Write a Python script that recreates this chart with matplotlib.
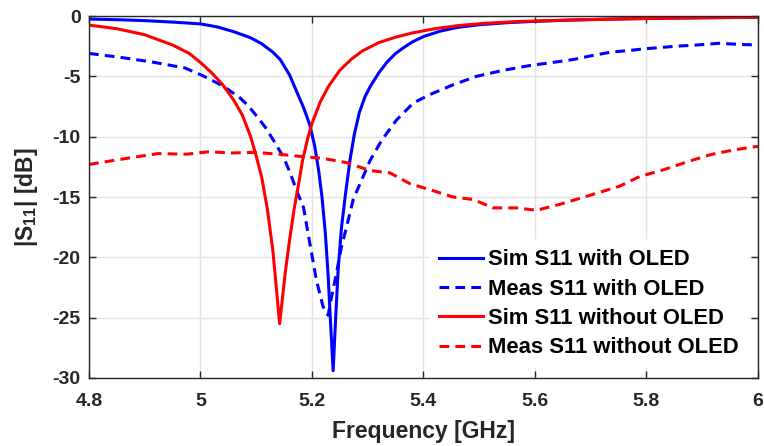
import matplotlib
matplotlib.use("Agg")
import matplotlib.pyplot as plt

plt.rcParams['font.family'] = ['Liberation Sans', 'DejaVu Sans']
plt.rcParams['mathtext.fontset'] = 'custom'
plt.rcParams['mathtext.rm'] = 'Liberation Sans:bold'
plt.rcParams['mathtext.bf'] = 'Liberation Sans:bold'
plt.rcParams['mathtext.it'] = 'Liberation Sans:bold'
plt.rcParams['axes.unicode_minus'] = False

# Simulated S11 with OLED
sim_oled_f = [4.80, 4.85, 4.90, 4.95, 5.00, 5.03, 5.06, 5.09, 5.11, 5.13, 5.143,
              5.16, 5.172, 5.185, 5.196, 5.205, 5.212, 5.218, 5.224, 5.229, 5.234,
              5.238, 5.242, 5.247, 5.253, 5.260, 5.268, 5.276, 5.285, 5.295, 5.305,
              5.32, 5.335, 5.35, 5.365, 5.38, 5.40, 5.43, 5.46, 5.50, 5.55, 5.60,
              5.66, 5.73, 5.80, 5.90, 6.00]
sim_oled_db = [-0.25, -0.3, -0.38, -0.5, -0.65, -0.9, -1.3, -1.8, -2.3, -3.0, -3.6,
               -4.9, -6.2, -7.6, -9.0, -10.8, -12.8, -15.0, -18.0, -21.5, -26.0,
               -29.4, -25.5, -21.0, -17.5, -14.8, -12.0, -9.8, -8.0, -6.7, -5.8,
               -4.7, -3.8, -3.1, -2.6, -2.15, -1.7, -1.25, -0.95, -0.72, -0.55, -0.44,
               -0.34, -0.26, -0.2, -0.14, -0.1]

# Measured S11 with OLED
meas_oled_f = [4.80, 4.853, 4.912, 4.972, 5.002, 5.032, 5.050, 5.070, 5.085, 5.101, 5.116,
               5.131, 5.149, 5.160, 5.172, 5.185, 5.196, 5.208, 5.220, 5.229, 5.235,
               5.244, 5.253, 5.262, 5.274, 5.289, 5.304, 5.325, 5.352, 5.382, 5.412,
               5.453, 5.495, 5.543, 5.591, 5.639, 5.669, 5.700, 5.735, 5.770, 5.800,
               5.854, 5.890, 5.930, 5.968, 6.00]
meas_oled_db = [-3.1, -3.4, -3.8, -4.3, -4.9, -5.6, -6.1, -6.75, -7.4, -8.3, -9.2,
                -10.3, -11.7, -12.9, -14.4, -15.9, -18.8, -21.9, -24.1, -24.8, -23.3,
                -21.3, -19.1, -17.5, -15.2, -13.6, -12.0, -10.3, -8.6, -7.2, -6.5,
                -5.7, -5.0, -4.5, -4.1, -3.8, -3.6, -3.3, -3.0, -2.85, -2.7,
                -2.5, -2.4, -2.26, -2.35, -2.4]

# Simulated S11 without OLED
sim_no_f = [4.80, 4.85, 4.90, 4.95, 4.98, 5.00, 5.02, 5.04, 5.06, 5.075, 5.09,
            5.10, 5.11, 5.12, 5.13, 5.142, 5.152, 5.16, 5.168, 5.175, 5.183,
            5.192, 5.20, 5.215, 5.23, 5.25, 5.27, 5.29, 5.32, 5.35, 5.38,
            5.42, 5.46, 5.51, 5.57, 5.66, 5.75, 5.85, 6.00]
sim_no_db = [-0.75, -1.05, -1.55, -2.4, -3.1, -3.85, -4.7, -5.7, -7.0, -8.2, -10.0,
             -11.6, -13.4, -16.0, -19.5, -25.5, -21.3, -18.5, -16.0, -14.2, -12.0,
             -10.2, -8.9, -7.1, -5.8, -4.5, -3.6, -2.9, -2.2, -1.75, -1.4,
             -1.05, -0.8, -0.6, -0.45, -0.33, -0.24, -0.17, -0.1]

# Measured S11 without OLED
meas_no_f = [4.80, 4.853, 4.888, 4.924, 4.975, 5.014, 5.056, 5.098, 5.140, 5.172, 5.220,
             5.262, 5.304, 5.340, 5.376, 5.412, 5.453, 5.489, 5.525, 5.567, 5.603,
             5.645, 5.681, 5.717, 5.752, 5.788, 5.830, 5.872, 5.914, 5.956, 6.00]
meas_no_db = [-12.3, -11.9, -11.65, -11.4, -11.45, -11.25, -11.35, -11.3, -11.45, -11.6, -11.8,
              -12.15, -12.8, -13.0, -13.9, -14.4, -15.0, -15.2, -15.9, -15.9, -16.1,
              -15.6, -15.1, -14.6, -14.1, -13.3, -12.75, -12.1, -11.5, -11.1, -10.8]

labels = ['Sim S11 with OLED', 'Meas S11 with OLED',
          'Sim S11 without OLED', 'Meas S11 without OLED']
xticks = [4.8, 5.0, 5.2, 5.4, 5.6, 5.8, 6.0]
xticklabels = ['4.8', '5', '5.2', '5.4', '5.6', '5.8', '6']
yticks = [-30, -25, -20, -15, -10, -5, 0]

fig = plt.figure(figsize=(7.64, 4.46), dpi=100)
ax = fig.add_axes([0.1165, 0.1525, 0.8755, 0.8115])

lw = 2.2
dash = (3.2, 2.0)
ax.plot(sim_oled_f, sim_oled_db, color='#0000ff', lw=lw, label=labels[0])
ax.plot(meas_oled_f, meas_oled_db, color='#0000ff', lw=lw, ls=(0, dash), label=labels[1])
ax.plot(sim_no_f, sim_no_db, color='#ff0000', lw=lw, label=labels[2])
ax.plot(meas_no_f, meas_no_db, color='#ff0000', lw=lw, ls=(0, dash), label=labels[3])

ax.set_xlim(4.8, 6.0)
ax.set_ylim(-30, 0)
ax.set_xticks(xticks)
ax.set_xticklabels(xticklabels)
ax.set_yticks(yticks)
ax.grid(True, color='#e3e3e3', lw=1.0)
ax.set_axisbelow(True)

dark = '#262626'
for s in ax.spines.values():
    s.set_color(dark)
    s.set_linewidth(1.0)
ax.tick_params(direction='in', length=5, width=1, colors=dark, top=True, right=True,
               labelsize=14)
ax.tick_params(axis='x', pad=11)
ax.tick_params(axis='y', pad=6)
for t in ax.get_xticklabels() + ax.get_yticklabels():
    t.set_fontweight('bold')

ax.set_xlabel('Frequency [GHz]', fontsize=16.5, fontweight='bold', color=dark, labelpad=7)
ax.set_ylabel(r'|S$_{\mathbf{11}}$| [dB]', fontsize=16.5, fontweight='bold', color=dark, labelpad=9)

leg = ax.legend(loc='lower right', frameon=True, facecolor='white',
                edgecolor='white', framealpha=1.0, fancybox=False,
                handlelength=2.0, handletextpad=0.2, labelspacing=0.38,
                borderaxespad=0.5, prop={'weight': 'bold', 'size': 15.8})

fig.savefig('out.png', dpi=100)
